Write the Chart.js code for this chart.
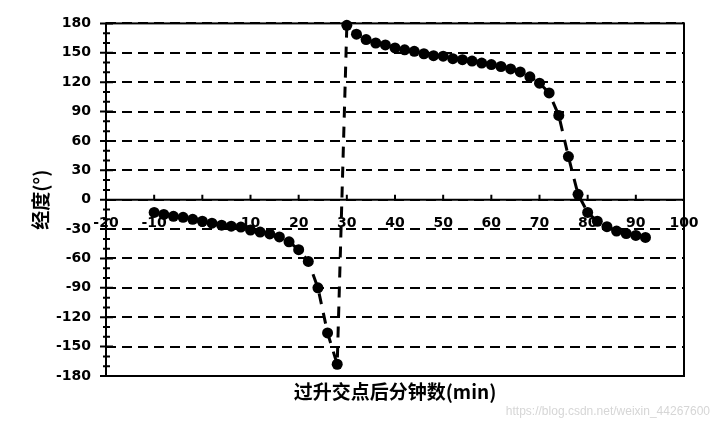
<!DOCTYPE html>
<html><head><meta charset="utf-8">
<script src="https://cdn.jsdelivr.net/npm/chart.js@4"></script>
<style>html,body{margin:0;padding:0;background:#fff;}canvas{display:block;}</style>
</head><body>
<canvas id="c" width="719" height="432"></canvas>
<script>
// minutes after ascending node
const minutes = [-10,-8,-6,-4,-2,0,2,4,6,8,10,12,14,16,18,20,22,24,26,28,
  30,32,34,36,38,40,42,44,46,48,50,52,54,56,58,60,62,64,66,68,70,72,74,76,78,80,82,84,86,88,90,92];
// longitude (degrees)
const longitude = [-13,-15,-17,-18,-20,-22,-24,-26,-27,-28,-31,-33,-35,-38,-43,-51,-63,-90,-136,-168,
  178,169,163.5,160,158,155,153,151.5,149,147,146.5,144,143,141.5,139.5,138,136,133.5,130.5,125.5,119,109,86,44,5.5,
  -13,-22,-27.5,-32,-34.5,-36.5,-38.5];
const xTickValues = [-20,-10,0,10,20,30,40,50,60,70,80,90,100];
const yTickValues = [-180,-150,-120,-90,-60,-30,0,30,60,90,120,150,180];
const yMinorValues = [-170,-160,-140,-130,-110,-100,-80,-70,-50,-40,-20,-10,10,20,40,50,70,80,100,110,130,140,160,170];
const xTitle = '过升交点后分钟数(min)';
const yTitle = '经度(°)';
const watermark = 'https://blog.csdn.net/weixin_44267600';

const extras = {
  id: 'extras',
  beforeDatasetsDraw(chart) {
    const {ctx, chartArea: a, scales: {x, y}} = chart;
    ctx.save();
    ctx.strokeStyle = '#000';
    ctx.lineWidth = 2;
    ctx.setLineDash([]);
    ctx.strokeRect(a.left, a.top, a.right - a.left, a.bottom - a.top);
    const y0 = y.getPixelForValue(0);
    ctx.beginPath();
    ctx.moveTo(a.left, y0); ctx.lineTo(a.right, y0);
    xTickValues.forEach(v => { const px = x.getPixelForValue(v); ctx.moveTo(px, y0); ctx.lineTo(px, y0 - 5); });
    yTickValues.forEach(v => { const py = y.getPixelForValue(v); ctx.moveTo(a.left - 6, py); ctx.lineTo(a.left + 7, py); });
    yMinorValues.forEach(v => { const py = y.getPixelForValue(v); ctx.moveTo(a.left - 3, py); ctx.lineTo(a.left + 4, py); });
    ctx.stroke();
    ctx.restore();
  },
  afterDraw(chart) {
    const {ctx, chartArea: a} = chart;
    ctx.save();
    ctx.fillStyle = '#000';
    ctx.font = 'bold 19px "Noto Sans CJK SC"';
    ctx.textAlign = 'center';
    ctx.textBaseline = 'middle';
    ctx.fillText(xTitle, (a.left + a.right) / 2, 392);
    ctx.translate(41, (a.top + a.bottom) / 2);
    ctx.rotate(-Math.PI / 2);
    ctx.fillText(yTitle, 0, 0);
    ctx.restore();
    ctx.save();
    ctx.fillStyle = '#d6d6d6';
    ctx.font = '12px "Liberation Sans"';
    ctx.textAlign = 'right';
    ctx.textBaseline = 'middle';
    ctx.fillText(watermark, 710, 412);
    ctx.restore();
  }
};

Chart.defaults.color = '#000';
new Chart(document.getElementById('c'), {
  type: 'line',
  data: {
    datasets: [{
      data: minutes.map((m, i) => ({x: m, y: longitude[i]})),
      borderColor: '#000',
      borderWidth: 3,
      borderDash: [11, 9],
      pointRadius: 5.5,
      pointBackgroundColor: '#000',
      pointBorderWidth: 0,
      tension: 0,
      clip: false
    }]
  },
  options: {
    responsive: false,
    animation: false,
    devicePixelRatio: 1,
    layout: {padding: {left: 0, top: 22, right: 35, bottom: 56}},
    plugins: {legend: {display: false}, tooltip: {enabled: false}},
    scales: {
      x: {
        type: 'linear',
        position: {y: 0},
        min: -20, max: 100,
        afterBuildTicks: s => { s.ticks = xTickValues.map(v => ({value: v})); },
        afterFit: s => { s.paddingLeft = 0; s.paddingRight = 0; },
        grid: {display: false, drawTicks: false},
        border: {display: false},
        ticks: {padding: 15, font: {family: 'DejaVu Sans', size: 14, weight: 'bold'}, maxRotation: 0, autoSkip: false}
      },
      y: {
        type: 'linear',
        min: -180, max: 180,
        afterBuildTicks: s => { s.ticks = yTickValues.map(v => ({value: v})); },
        afterFit: s => { s.width = 106; },
        grid: {color: '#000', lineWidth: 2, drawTicks: false},
        border: {display: false, dash: [10, 6]},
        ticks: {padding: 15, font: {family: 'DejaVu Sans', size: 14, weight: 'bold'}, autoSkip: false}
      }
    }
  },
  plugins: [extras]
});
</script>
</body></html>
